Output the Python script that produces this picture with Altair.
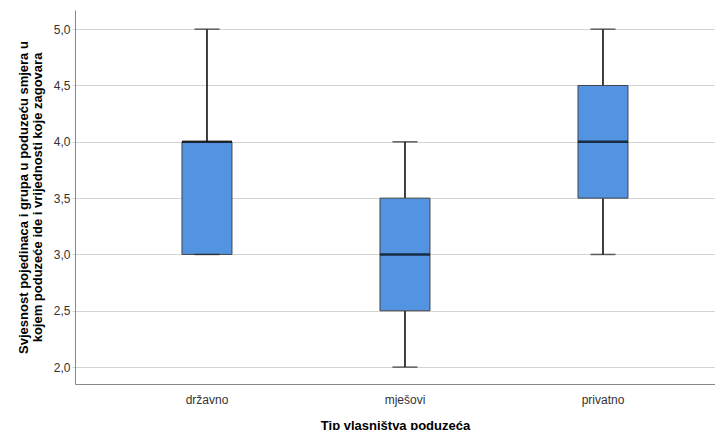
import altair as alt
import pandas as pd

categories = ["državno", "mješovi", "privatno"]
mins = [3.0, 2.0, 3.0]
q1s = [3.0, 2.5, 3.5]
medians = [4.0, 3.0, 4.0]
q3s = [4.0, 3.5, 4.5]
maxs = [5.0, 4.0, 5.0]

df = pd.DataFrame({"cat": categories, "lo": mins, "q1": q1s, "med": medians, "q3": q3s, "hi": maxs})

FONT = "Liberation Sans"
xscale = alt.Scale(type="band", paddingInner=0, paddingOuter=0.11616, align=0.717)
xaxis = alt.Axis(title="Tip vlasništva poduzeća", labelAngle=0, ticks=False,
                 domainColor="#888888", labelColor="#333333", labelFontSize=12,
                 labelFont=FONT, labelPadding=10, titleFont=FONT, titleFontSize=13,
                 titleFontWeight="bold", titleColor="#000000", titlePadding=14, grid=False)
yscale = alt.Scale(domain=[1.85, 5.17], nice=False, zero=False)
yaxis = alt.Axis(title=["Svjesnost pojedinaca i grupa u poduzeću smjera u",
                        "kojem poduzeće ide i vrijednosti koje zagovara"],
                 values=[2.0, 2.5, 3.0, 3.5, 4.0, 4.5, 5.0],
                 labelExpr="replace(format(datum.value, '.1f'), '.', ',')",
                 grid=True, gridColor="#d4d4d4", gridWidth=1,
                 tickColor="#d4d4d4", tickSize=3, domainColor="#888888",
                 labelColor="#333333", labelFontSize=12, labelFont=FONT, labelPadding=2,
                 titleFont=FONT, titleFontSize=13, titleFontWeight="bold", titleColor="#000000",
                 titlePadding=9, titleLineHeight=14)

xenc = alt.X("cat:N", scale=xscale, sort=categories, axis=xaxis)
base = alt.Chart(df)

whisk_lo = base.mark_rule(color="#000000", strokeWidth=1.5).encode(
    x=xenc, y=alt.Y("lo:Q", scale=yscale, axis=yaxis), y2="q1:Q")
whisk_hi = base.mark_rule(color="#000000", strokeWidth=1.5).encode(
    x=xenc, y=alt.Y("q3:Q", scale=yscale, axis=yaxis), y2="hi:Q")
box = base.mark_bar(size=50, color="#5294e2", stroke="#444444", strokeWidth=1).encode(
    x=xenc, y=alt.Y("q1:Q", scale=yscale, axis=yaxis), y2="q3:Q")
cap_lo = base.mark_tick(size=25, thickness=1.5, color="#222222", orient="horizontal").encode(
    x=xenc, y=alt.Y("lo:Q", scale=yscale, axis=yaxis))
cap_hi = base.mark_tick(size=25, thickness=1.5, color="#222222", orient="horizontal").encode(
    x=xenc, y=alt.Y("hi:Q", scale=yscale, axis=yaxis))
median = base.mark_tick(size=50, thickness=2.5, color="#000000", orient="horizontal").encode(
    x=xenc, y=alt.Y("med:Q", scale=yscale, axis=yaxis))

chart = alt.layer(whisk_lo, whisk_hi, box, cap_lo, cap_hi, median).properties(
    width=640, height=374,
    autosize=alt.AutoSizeParams(type="none"),
    padding={"left": 67, "top": 2, "right": 0, "bottom": 46},
).configure_view(strokeWidth=0, stroke="transparent", fill="#ffffff").configure(
    background="#ffffff",
    style={"cell": {"stroke": "transparent", "strokeWidth": 0}},
)

chart.save("out.html", embed_options={"renderer": "svg", "actions": False})
